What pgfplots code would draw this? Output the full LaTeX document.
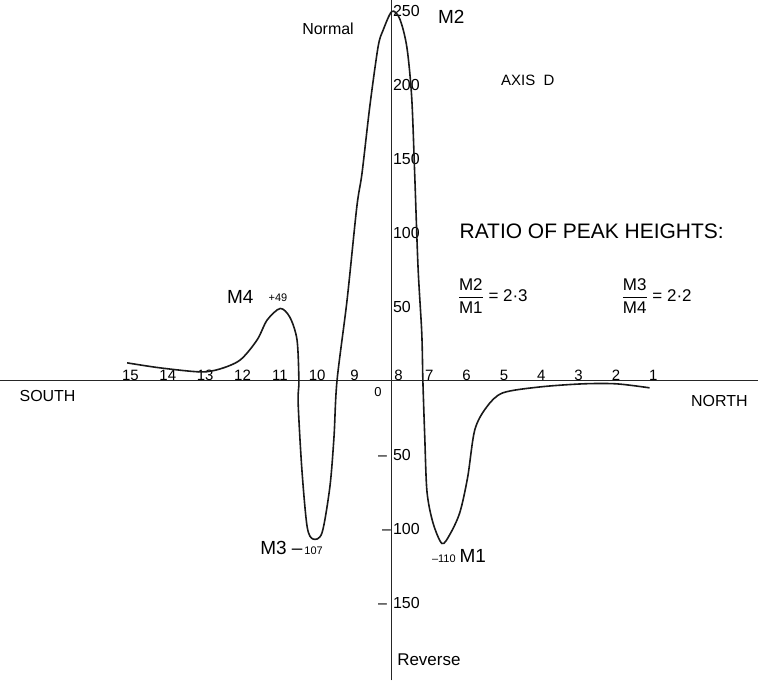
\documentclass[border=0pt]{standalone}
\usepackage{pgfplots}
\pgfplotsset{compat=1.18}
\usepackage{fontspec}
\setmainfont{Liberation Sans}
\newcommand{\fs}[1]{\fontsize{#1}{#1}\selectfont}
\begin{document}
\begin{tikzpicture}
\begin{axis}[
  x=37.4pt, y=1.48pt,
  xmin=-10.48, xmax=9.79, ymin=-202.7, ymax=257.4,
  axis lines=middle,
  axis line style={-, line width=1pt, black!85},
  hide obscured x ticks=false,
  xtick={-7,...,7},
  xticklabels={15,14,13,12,11,10,9,\rlap{\,8},7,6,5,4,3,2,1},
  ytick={-150,-100,-50,50,100,150,200,250},
  yticklabels={\llap{\textendash\hspace{6pt}}150,\llap{\textendash\hspace{2pt}}100,\llap{\textendash\hspace{6pt}}50,50,100,150,200,250},
  major tick length=0pt,
  xticklabel style={anchor=south, font=\fs{15}, inner sep=0.5pt},
  yticklabel style={anchor=west, font=\fs{16}, inner sep=1pt},
  clip=false,
]
\addplot[black!90, line width=1.6pt, smooth, tension=0.5] coordinates {
(-7.09,12.2) (-6.20,8.8) (-5.13,6.1) (-4.60,8.1) (-4.06,14.2) (-3.61,27.7)
(-3.34,41.2) (-2.99,49) (-2.73,43) (-2.54,27.7) (-2.49,0) (-2.51,-15)
(-2.41,-60) (-2.27,-98.6) (-2.11,-107) (-1.87,-102.7) (-1.66,-71.6)
(-1.55,-37.8) (-1.47,0) (-1.20,54.7) (-0.94,117.6) (-0.80,140.5)
(-0.59,186) (-0.37,226) (-0.24,237) (0,250) (0.21,245) (0.40,226)
(0.53,192) (0.61,140.5) (0.70,77) (0.80,32.4) (0.83,0) (0.88,-37.8)
(0.94,-75) (1.10,-96) (1.34,-110) (1.55,-104) (1.82,-89) (2.03,-65)
(2.22,-33.1) (2.54,-17.6) (2.97,-8.1) (3.96,-4.1) (5.11,-2.0) (6.02,-2.0)
(6.90,-4.7)
};
\node[font=\fs{16}] at (axis cs:-1.71,238.5) {Normal};
\node[font=\fs{19}, anchor=west, inner sep=0pt] at (axis cs:1.23,246) {M2};
\node[font=\fs{15}] at (axis cs:3.64,203.4) {AXIS\ \ D};
\node[font=\fs{21}] at (axis cs:5.35,101.4) {RATIO OF PEAK HEIGHTS:};
\node[font=\fs{17}, anchor=west, inner sep=0pt] at (axis cs:1.76,57.4)
  {$\displaystyle\frac{\hbox{M2}}{\hbox{M1}}$ = 2·3};
\node[font=\fs{17}, anchor=west, inner sep=0pt] at (axis cs:6.15,57.4)
  {$\displaystyle\frac{\hbox{M3}}{\hbox{M4}}$ = 2·2};
\node[font=\fs{19}] at (axis cs:-4.06,56.8) {M4};
\node[font=\fs{11}] at (axis cs:-3.05,56) {+49};
\node[font=\fs{19}, anchor=base west, inner sep=0pt] at (axis cs:-3.53,-117.6)
  {M3 \textendash\hspace{2pt}{\fs{11}107}};
\node[font=\fs{19}, anchor=base west, inner sep=0pt] at (axis cs:1.07,-123)
  {{\fs{11}\textendash110}\hspace{4pt}M1};
\node[font=\fs{16}] at (axis cs:-9.22,-10.1) {SOUTH};
\node[font=\fs{16}] at (axis cs:8.77,-13.5) {NORTH};
\node[font=\fs{13}] at (axis cs:-0.37,-7.4) {0};
\node[font=\fs{17}] at (axis cs:0.99,-188.5) {Reverse};
\end{axis}
\end{tikzpicture}
\end{document}
